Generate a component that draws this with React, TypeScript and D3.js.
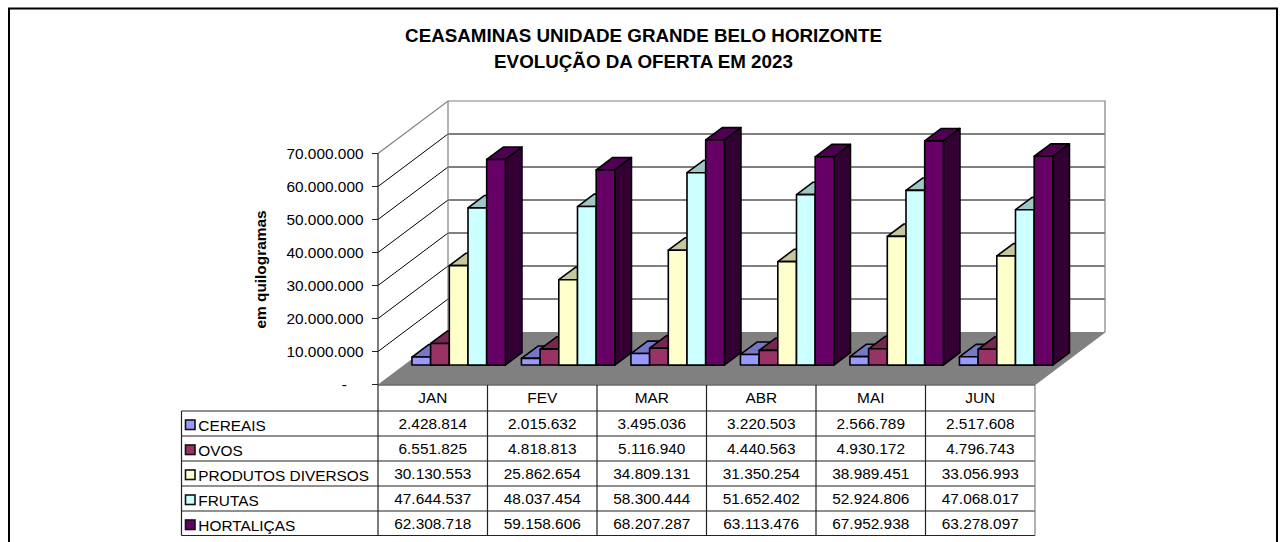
import React from "react";
import * as d3 from "d3";

const months = ["JAN", "FEV", "MAR", "ABR", "MAI", "JUN"];
const seriesNames = ["CEREAIS", "OVOS", "PRODUTOS DIVERSOS", "FRUTAS", "HORTALIÇAS"];
const cereais = [2428814, 2015632, 3495036, 3220503, 2566789, 2517608];
const ovos = [6551825, 4818813, 5116940, 4440563, 4930172, 4796743];
const diversos = [30130553, 25862654, 34809131, 31350254, 38989451, 33056993];
const frutas = [47644537, 48037454, 58300444, 51652402, 52924806, 47068017];
const hortalicas = [62308718, 59158606, 68207287, 63113476, 67952938, 63278097];
const seriesValues = [cereais, ovos, diversos, frutas, hortalicas];
const colors = ["#9999ff", "#993366", "#ffffcc", "#ccffff", "#660066"];
const yTicks = [0, 10000000, 20000000, 30000000, 40000000, 50000000, 60000000, 70000000];

const font = "'Liberation Sans', Arial, sans-serif";

// front-left corner of the floor and the full depth of the box
const x0 = 378;
const y0 = 384.5;
const depthX = 70;
const depthY = -52.5;
// how far into the box the bars stand, and how deep they are
const barDepthStart = 0.37;
const barDepthX = 16.6;
const barDepthY = -12.4;

const x = d3.scaleBand<string>().domain(months).range([x0, 1035]);
const inner = d3
  .scaleBand<number>()
  .domain(d3.range(5))
  .range([0, x.bandwidth()])
  .paddingOuter(0.43)
  .paddingInner(0);
const h = d3.scaleLinear().domain([0, 70000000]).range([0, 231]);

const fmt = (v: number) => d3.format(",")(v).replace(/,/g, ".");
const shade = (c: string, k: number) => {
  const r = d3.rgb(c);
  return d3.rgb(r.r * k, r.g * k, r.b * k).formatHex();
};
const poly = (pts: number[][]) => pts.map((p) => p.join(",")).join(" ");

const rowLines = [385, 411, 436, 461, 486, 511, 535.5];
const tableLeft = 181.5;

export default function App() {
  const backX = x0 + depthX;
  const backY = y0 + depthY;
  const right = 1035;
  const baseY = y0 + depthY * barDepthStart;
  const baseShift = depthX * barDepthStart;

  return (
    <svg
      width={1280}
      height={542}
      style={{ position: "absolute", left: 0, top: 0, background: "#fff" }}
      fontFamily={font}
    >
      <path d="M9,542V8.5H1277V542" fill="none" stroke="#000" strokeWidth={2} />

      <g textAnchor="middle" fontWeight="bold" fontSize={18.8} fill="#000">
        <text x={643.5} y={42}>CEASAMINAS UNIDADE GRANDE BELO HORIZONTE</text>
        <text x={643.5} y={67.5}>EVOLUÇÃO DA OFERTA EM 2023</text>
      </g>

      {/* walls and floor */}
      <polygon
        points={poly([[x0, y0], [backX, backY], [right + depthX, backY], [right, y0]])}
        fill="#808080"
      />
      {yTicks.slice(1, -1).map((t) => (
        <polyline
          key={t}
          points={poly([
            [x0, y0 - h(t)],
            [backX, backY - h(t)],
            [right + depthX, backY - h(t)],
          ])}
          stroke="#000"
          strokeWidth={1}
          fill="none"
        />
      ))}
      <polyline
        points={poly([
          [x0, y0 - h(70000000)],
          [backX, backY - h(70000000)],
          [right + depthX, backY - h(70000000)],
          [right + depthX, backY],
          [right, y0],
        ])}
        fill="none"
        stroke="#808080"
        strokeWidth={1.2}
      />
      <line x1={backX} x2={backX} y1={backY} y2={backY - h(70000000)} stroke="#808080" strokeWidth={1.2} />

      {/* y axis */}
      <line x1={x0} x2={x0} y1={y0} y2={y0 - h(70000000)} stroke="#222" strokeWidth={1.2} />
      {yTicks.map((t) => (
        <g key={t}>
          <line x1={x0 - 6} x2={x0} y1={y0 - h(t)} y2={y0 - h(t)} stroke="#222" />
          <text
            x={t === 0 ? 347 : 363.5}
            y={y0 - h(t) + 5.5}
            textAnchor="end"
            fontSize={15.4}
            fill="#000"
          >
            {t === 0 ? "-" : fmt(t)}
          </text>
        </g>
      ))}
      <text
        transform="translate(265.5,269.5) rotate(-90)"
        textAnchor="middle"
        fontWeight="bold"
        fontSize={15.4}
        fill="#000"
      >
        em quilogramas
      </text>

      {/* bars */}
      {months.map((m, i) =>
        seriesValues.map((vals, s) => {
          const bx = (x(m) as number) + baseShift + (inner(s) as number);
          const bw = inner.bandwidth();
          const top = baseY - h(vals[i]);
          const c = colors[s];
          return (
            <g key={m + s} stroke="#000" strokeWidth={1.6} strokeLinejoin="round">
              <polygon
                points={poly([
                  [bx, top],
                  [bx + barDepthX, top + barDepthY],
                  [bx + bw + barDepthX, top + barDepthY],
                  [bx + bw, top],
                ])}
                fill={shade(c, 0.78)}
              />
              <polygon
                points={poly([
                  [bx + bw, top],
                  [bx + bw + barDepthX, top + barDepthY],
                  [bx + bw + barDepthX, baseY + barDepthY],
                  [bx + bw, baseY],
                ])}
                fill={shade(c, 0.5)}
              />
              <rect x={bx} y={top} width={bw} height={baseY - top} fill={c} />
            </g>
          );
        })
      )}

      {/* data table */}
      <g stroke="#222" strokeWidth={1.2}>
        {rowLines.map((y, i) => (
          <line key={y} x1={i === 0 ? x0 : tableLeft} x2={right} y1={y} y2={y} />
        ))}
        <line x1={tableLeft} x2={tableLeft} y1={rowLines[1]} y2={rowLines[6]} />
        {months.map((m) => (
          <line key={m} x1={x(m)} x2={x(m)} y1={rowLines[0]} y2={rowLines[6]} />
        ))}
        <line x1={right} x2={right} y1={rowLines[0]} y2={rowLines[6]} stroke="#808080" />
      </g>
      <g fontSize={15.4} fill="#000">
        {months.map((m) => (
          <text
            key={m}
            x={(x(m) as number) + x.bandwidth() / 2}
            y={402.7}
            textAnchor="middle"
          >
            {m}
          </text>
        ))}
        {seriesNames.map((name, s) => (
          <g key={name}>
            <rect
              x={185.5}
              y={rowLines[s + 1] + 9}
              width={9.5}
              height={9.5}
              fill={colors[s]}
              stroke="#111"
              strokeWidth={1.6}
            />
            <text x={198.3} y={rowLines[s + 1] + 19.5}>{name}</text>
            {months.map((m, i) => (
              <text
                key={m}
                x={(x(m) as number) + x.bandwidth() / 2}
                y={rowLines[s + 1] + 18}
                textAnchor="middle"
              >
                {fmt(seriesValues[s][i])}
              </text>
            ))}
          </g>
        ))}
      </g>
    </svg>
  );
}
